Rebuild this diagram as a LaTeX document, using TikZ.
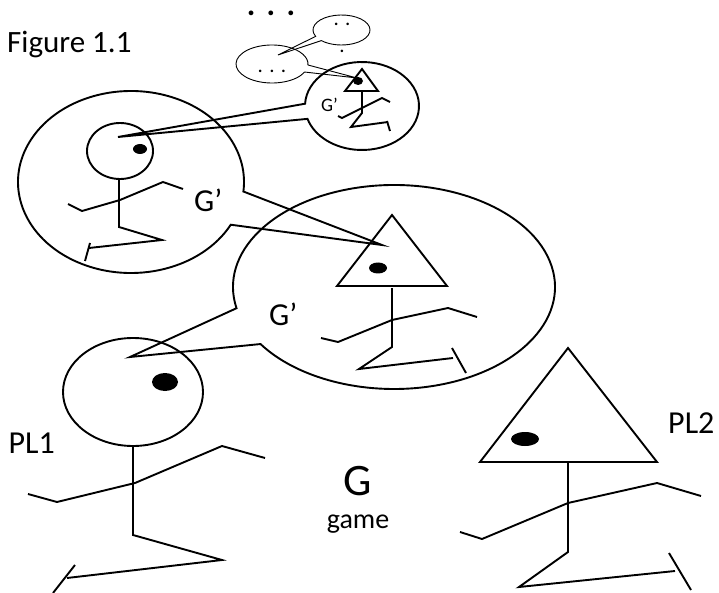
\documentclass[tikz,border=0pt]{standalone}
\usepackage{fontspec}
\setmainfont{Carlito}

\begin{document}
\begin{tikzpicture}[
  x=1pt, y=1pt, yscale=-1,
  stick/.style={line width=1.9pt},
  bubble/.style={line width=1.9pt},
  cloud/.style={line width=0.9pt},
  eye/.style={fill=black},
  lbl/.style={inner sep=0pt, anchor=base west},
  huge/.style={font=\fontsize{45}{50}\selectfont},
  big/.style={font=\fontsize{32}{36}\selectfont},
  mid/.style={font=\fontsize{28}{32}\selectfont},
  tiny/.style={font=\fontsize{19}{22}\selectfont},
  dotted text/.style={font=\fontsize{21}{24}\selectfont, anchor=base},
]
  \useasboundingbox (0,0) rectangle (719,593);

  % labels
  \node[lbl, font=\fontsize{31}{34}\selectfont] (title) at (7,53) {Figure 1.1};
  \node[lbl, big, anchor=base east] (pl1) at (55,453) {PL1};
  \node[lbl, big] (pl2) at (668,433) {PL2};
  \node[lbl, huge, anchor=base] (game) at (358,495) {G};
  \node[lbl, mid, anchor=base] (gamename) at (358,528) {game};
  \node[lbl, big] (gview1) at (269,325) {G’};
  \node[lbl, big] (gview2) at (194,212) {G’};
  \node[lbl, tiny] (gview3) at (321,112) {G’};
  \node[lbl, font=\fontsize{32}{32}\selectfont\bfseries, anchor=base] (more) at (271,15.5)
    {\spaceskip=9pt . . .};
  \node[dotted text] (dots1) at (342,26) {. .};
  \node[dotted text] (dots2) at (342,53) {.};
  \node[dotted text] (dots3) at (272,72.5) {. . .};

  % thought bubbles, each with its tail
  \draw[bubble] (394,287) ++(168:161 and 102)
    arc[start angle=168, end angle=506, x radius=161, y radius=102] -- (130,357) -- cycle;
  \draw[bubble] (131,182) ++(28:113 and 91)
    arc[start angle=28, end angle=366, x radius=113, y radius=91] -- (382,245) -- cycle;
  \draw[bubble] (362,106) ++(183:57 and 44)
    arc[start angle=183, end angle=523, x radius=57, y radius=44] -- (118,137) -- cycle;
  \draw[cloud] (272,64) ++(25:36 and 19)
    arc[start angle=25, end angle=363, x radius=36, y radius=19] -- (357,78) -- cycle;
  \draw[cloud] (341.5,30) ++(155:28.5 and 15)
    arc[start angle=155, end angle=495, x radius=28.5, y radius=15] -- (278,55) -- cycle;

  % player 1
  \draw[stick] (133,392) ellipse[x radius=70, y radius=54];
  \fill[eye] (165,382) ellipse[x radius=13, y radius=9];
  \draw[stick] (133,446) -- (133,535) -- (222,560) -- (67,578);
  \draw[stick] (75,565) -- (53,593);
  \draw[stick] (28,494) -- (57,502) -- (135,483) -- (222,446) -- (265,458);

  % player 2
  \draw[stick] (568,348) -- (480,462) -- (657,462) -- cycle;
  \fill[eye] (525,439) ellipse[x radius=14, y radius=7];
  \draw[stick] (568,462) -- (568,552) -- (519,587) -- (675,571);
  \draw[stick] (669,553) -- (691,590);
  \draw[stick] (460,532) -- (482,539) -- (568,503) -- (657,483) -- (701,496);

  % player 2 as player 1 sees him
  \draw[stick] (392,215) -- (337,286) -- (447,286) -- cycle;
  \fill[eye] (378,268) ellipse[x radius=9, y radius=5.5];
  \draw[stick] (392,288) -- (392,347) -- (359,369) -- (453,358);
  \draw[stick] (452,348) -- (466,373);
  \draw[stick] (321,338) -- (338,342) -- (392,320) -- (448,308) -- (477,317);

  % player 1 as seen by that player 2
  \draw[stick] (120,151) ellipse[x radius=33, y radius=28];
  \fill[eye] (140,149) ellipse[x radius=7, y radius=5];
  \draw[stick] (119,179) -- (119,227) -- (162,240) -- (89,248);
  \draw[stick] (90,243) -- (85,261);
  \draw[stick] (68,204) -- (82,211) -- (120,200) -- (163,182) -- (183,189);

  % and player 2 once more, one level down
  \draw[stick] (362,69) -- (345,91) -- (378,91) -- cycle;
  \fill[eye] (358,81) ellipse[x radius=5, y radius=4];
  \draw[stick] (362,92) -- (362,113) -- (351,127) -- (388,122);
  \draw[stick] (387,121) -- (390,131);
  \draw[stick] (338,116) -- (342,118) -- (382,98) -- (390,102);
\end{tikzpicture}
\end{document}
